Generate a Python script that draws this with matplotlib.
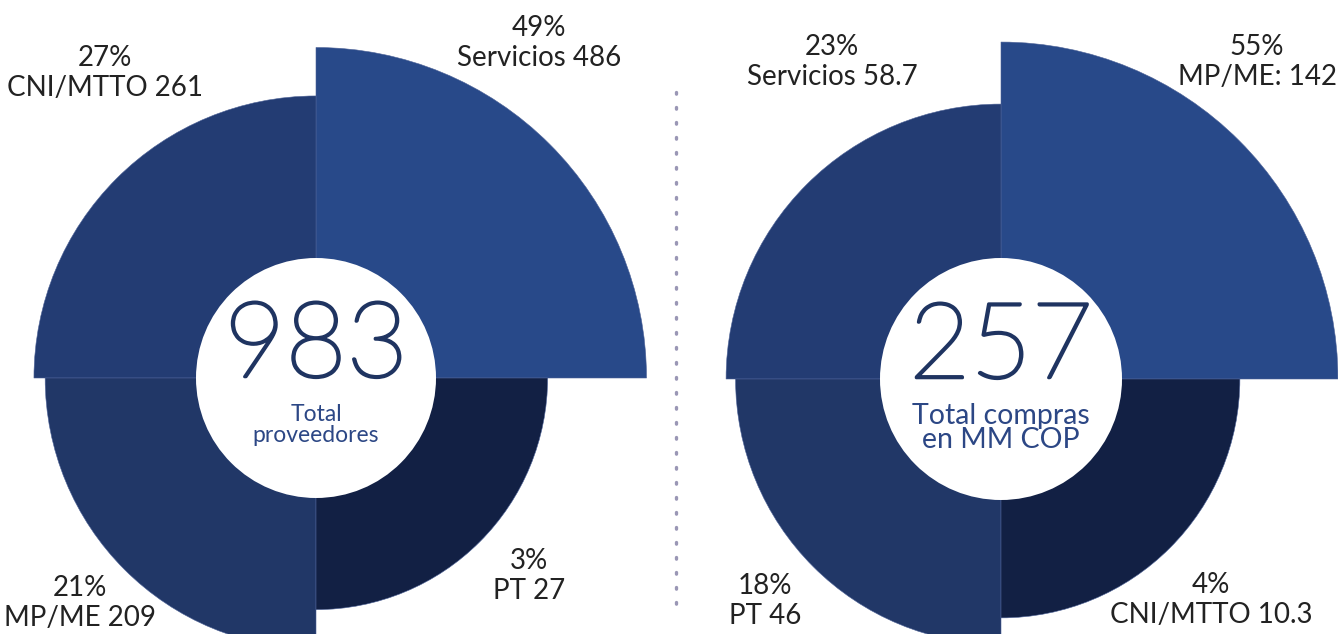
import numpy as np
import matplotlib
matplotlib.use("Agg")
import matplotlib.pyplot as plt
import matplotlib.patheffects as pe
from matplotlib.patches import Circle

# ---- data ----
left_names = ["Servicios", "CNI/MTTO", "MP/ME", "PT"]
left_values = [486, 261, 209, 27]
left_pcts = [49, 27, 21, 3]
left_total = "983"
left_sub = "Total\nproveedores"

right_names = ["MP/ME:", "Servicios", "PT", "CNI/MTTO"]
right_values = [142, 58.7, 46, 10.3]
right_pcts = [55, 23, 18, 4]
right_total = "257"
right_sub = "Total compras\nen MM COP"

# ---- style ----
W, H, DPI = 1338, 634, 100
quad_colors = ["#284989", "#233C73", "#213767", "#122044"]
edge_col = "#4d6297"
num_col = "#1f3461"
sub_col = "#2c4785"
lab_col = "#222222"
FONT = ["Lato", "DejaVu Sans"]
NUMFONT = ["Lato", "DejaVu Sans"]

fig = plt.figure(figsize=(W / DPI, H / DPI), dpi=DPI)
fig.patch.set_facecolor("white")

R = 340  # axes radius in px


def px2fig(x, y):
    return x / W, 1 - y / H


def rose(cx, cy, values, rmax, offset, total, sub, sub_size, hole_px, sub_dy):
    ax = fig.add_axes([(cx - R) / W, (H - cy - R) / H, 2 * R / W, 2 * R / H],
                      projection="polar")
    theta = np.deg2rad([45, 135, 225, 315])
    vals = np.asarray(values, dtype=float)
    ax.bar(theta, vals + offset, width=np.pi / 2, bottom=-offset,
           color=quad_colors, edgecolor=edge_col, linewidth=0.4, align="center")
    ax.set_ylim(-offset, rmax)
    ax.set_axis_off()
    ax.add_patch(Circle((0.5, 0.5), hole_px / (2 * R), transform=ax.transAxes,
                        facecolor="white", edgecolor="none", zorder=5))
    ax.text(0.5, 0.5 + 30 / (2 * R), total, transform=ax.transAxes, ha="center",
            va="center", fontsize=76, color=num_col, family=NUMFONT,
            fontweight="light", zorder=6,
            path_effects=[pe.withStroke(linewidth=2.2, foreground=num_col)])
    ax.text(0.5, 0.5 - sub_dy / (2 * R), sub, transform=ax.transAxes, ha="center",
            va="center", fontsize=sub_size, color=sub_col, family=FONT,
            fontweight="normal", linespacing=0.95, zorder=6)
    return ax


rose(316, 378, left_values, 530, 1048, left_total, left_sub, 16.5, 120, 47)
rose(1001, 379, right_values, 146.1, 310.5, right_total, right_sub, 20.5, 121, 49)

left_pos = [(539, 43), (105, 73), (80, 603), (529, 576)]
right_pos = [(1257, 62), (832, 62), (765, 601), (1211, 600)]

for names, vals, pcts, pos in [(left_names, left_values, left_pcts, left_pos),
                               (right_names, right_values, right_pcts, right_pos)]:
    for n, v, p, (x, y) in zip(names, vals, pcts, pos):
        fx, fy = px2fig(x, y)
        fig.text(fx, fy, f"{p}%\n{n} {v:g}", ha="center", va="center",
                 fontsize=20, color=lab_col, family=FONT, linespacing=1.2)

# dotted divider
fig.add_artist(plt.Line2D([676 / W, 676 / W], [1 - 92 / H, 1 - 610 / H],
                          color="#9a97b5", linewidth=2.4, linestyle=(0, (0.5, 4.0)),
                          dash_capstyle="round"))

fig.savefig("out.png", dpi=DPI)
